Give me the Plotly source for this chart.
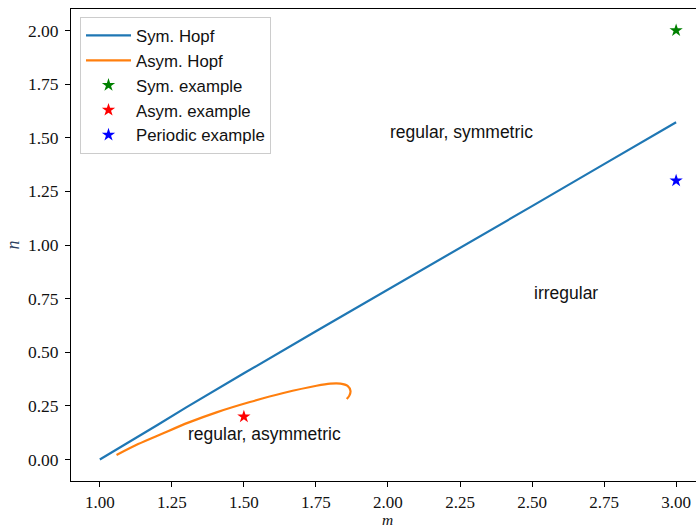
import plotly.graph_objects as go

# Sym. Hopf curve
sym_m = [1.0, 1.1, 1.2, 1.3, 1.4, 1.5, 1.75, 2.0, 2.25, 2.5, 2.75, 3.0]
sym_n = [0.0, 0.079, 0.161, 0.243, 0.323, 0.402, 0.598, 0.791, 0.986, 1.181, 1.377, 1.572]

# Asym. Hopf curve
asym_m = [1.058, 1.133, 1.214, 1.307, 1.405, 1.521, 1.637, 1.752, 1.80, 1.835, 1.860, 1.870, 1.866, 1.857]
asym_n = [0.021, 0.072, 0.119, 0.172, 0.220, 0.268, 0.310, 0.344, 0.354, 0.354, 0.343, 0.319, 0.298, 0.282]

# Example points
sym_ex = (3.0, 2.0)
asym_ex = (1.5, 0.2)
per_ex = (3.0, 1.3)

# Region labels
labels = ["regular, symmetric", "irregular", "regular, asymmetric"]
label_m = [2.0, 2.5, 1.3]
label_n = [1.527, 0.777, 0.121]

xticks = [1.0, 1.25, 1.5, 1.75, 2.0, 2.25, 2.5, 2.75, 3.0]
yticks = [0.0, 0.25, 0.5, 0.75, 1.0, 1.25, 1.5, 1.75, 2.0]

fig = go.Figure()
fig.add_trace(go.Scatter(x=sym_m, y=sym_n, mode="lines", name="Sym. Hopf",
                         line=dict(color="#1f77b4", width=2.2)))
fig.add_trace(go.Scatter(x=asym_m, y=asym_n, mode="lines", name="Asym. Hopf",
                         line=dict(color="#ff7f0e", width=2.2, shape="spline", smoothing=0.8)))
fig.add_trace(go.Scatter(x=[sym_ex[0]], y=[sym_ex[1]], mode="markers", name="Sym. example",
                         marker=dict(symbol="star", color="green", size=10)))
fig.add_trace(go.Scatter(x=[asym_ex[0]], y=[asym_ex[1]], mode="markers", name="Asym. example",
                         marker=dict(symbol="star", color="red", size=10)))
fig.add_trace(go.Scatter(x=[per_ex[0]], y=[per_ex[1]], mode="markers", name="Periodic example",
                         marker=dict(symbol="star", color="blue", size=10)))

for t, xm, yn in zip(labels, label_m, label_n):
    fig.add_annotation(x=xm, y=yn, text=t, showarrow=False, xanchor="left", yanchor="middle",
                       font=dict(family="Liberation Sans", size=17.5, color="#111"))

serif = "Liberation Serif"
# x-axis label placed just below the tick labels
fig.add_annotation(x=2.0, xref="x", y=-0.1017, yref="paper", text="<i>m</i>", showarrow=False,
                   xanchor="center", yanchor="bottom", borderpad=0,
                   font=dict(family=serif, size=15.5, color="#111"))

fig.update_layout(
    width=696, height=529,
    margin=dict(l=71, r=0, t=9, b=48),
    plot_bgcolor="white", paper_bgcolor="white",
    showlegend=True,
    legend=dict(x=0.0144, y=0.983, xanchor="left", yanchor="top",
                bgcolor="rgba(255,255,255,0.8)", bordercolor="#cccccc", borderwidth=1,
                itemwidth=45,
                font=dict(family="Liberation Sans", size=16.8, color="#111")),
    xaxis=dict(range=[0.9, 3.069], tickvals=xticks, ticktext=[f"{v:.2f}" for v in xticks],
               showgrid=False, zeroline=False, showline=True, linecolor="black", linewidth=1,
               mirror=True, ticks="outside", ticklen=5, tickcolor="black",
               ticklabelstandoff=1, automargin=False,
               tickfont=dict(family=serif, size=17, color="#111")),
    yaxis=dict(range=[-0.1, 2.1], tickvals=yticks, ticktext=[f"{v:.2f}" for v in yticks],
               showgrid=False, zeroline=False, showline=True, linecolor="black", linewidth=1,
               mirror=False, ticks="outside", ticklen=5, tickcolor="black",
               ticklabelstandoff=3, automargin=False,
               tickfont=dict(family=serif, size=17.5, color="#111"),
               title=dict(text="<i>n</i>", font=dict(family=serif, size=18), standoff=3)),
)
fig.write_html("out.html")
